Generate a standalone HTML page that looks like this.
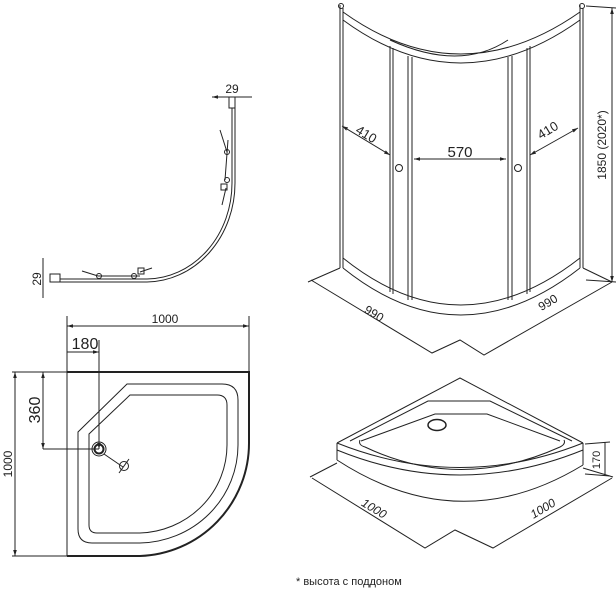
<!DOCTYPE html>
<html><head><meta charset="utf-8"><style>
html,body{margin:0;padding:0;background:#fff;}
svg{display:block;}
text{font-family:"Liberation Sans",sans-serif;fill:#222;}
</style></head><body>
<svg width="616" height="592" viewBox="0 0 616 592" xmlns="http://www.w3.org/2000/svg">
<defs><marker id="a" viewBox="0 0 10 10" refX="10" refY="5" markerWidth="6" markerHeight="6" orient="auto-start-reverse"><path d="M0,2 L10,5 L0,8z" fill="#222"/></marker></defs>
<g fill="none" stroke="#222" stroke-width="1">
<path d="M232,108 V183 A86,96 0 0 1 147,279 H60"/>
<path d="M235,108 V183 A89,99 0 0 1 147,282 H60"/>
<rect x="229" y="97" width="6" height="11"/>
<rect x="50" y="274" width="10" height="8"/>
<path d="M212,97 H252" marker-start="url(#a)"/>
<path d="M43,258 V298"/>
<path d="M220,130 L227,152 M228,140 L225,180 M226,188 L222,205 M82,271 L98,276 M98,276 L140,276 M140,272 L152,268"/>
<circle cx="227" cy="152" r="2.5"/><circle cx="227" cy="180" r="2.5"/><circle cx="99" cy="276" r="2.5"/><circle cx="134" cy="276" r="2.5"/>
<rect x="221" y="184" width="6" height="6"/><rect x="138" y="268" width="6" height="6"/>
</g>
<text x="232" y="93" font-size="12" text-anchor="middle">29</text>
<text transform="translate(41,279) rotate(-90)" font-size="12" text-anchor="middle">29</text>

<g fill="none" stroke="#222">
<path d="M67,372 V556" stroke-width="1"/>
<path d="M67,372 H249 V443 A113,113 0 0 1 140,556 H67" stroke-width="2"/>
<path d="M127,384 H222 Q238,384 238,400 V445 A100,98 0 0 1 140,543 H92 Q78,543 78,529 V432 Z" stroke-width="1"/>
<path d="M130,395 H217 Q227,395 227,405 V445 A90,88 0 0 1 140,533 H97 Q89,533 89,525 V434 Z" stroke-width="1"/>
<circle cx="99" cy="449" r="4.5" stroke-width="2"/><circle cx="99" cy="449" r="7" stroke-width="1"/>
<path d="M104,454 L123,467" stroke-width="1"/>
<circle cx="124" cy="466" r="4.5" stroke-width="1"/><path d="M119,473 L129,459" stroke-width="1"/>
<g stroke-width="1">
<path d="M67,372 V316 M249,372 V316"/>
<path d="M67,326 H249" marker-start="url(#a)" marker-end="url(#a)"/>
<path d="M99,449 V340 M67,352 H99" marker-start="url(#a)" marker-end="url(#a)"/>
<path d="M12,372 H67 M43,449 H99 M12,556 H67"/>
<path d="M43,372 V449" marker-start="url(#a)" marker-end="url(#a)"/>
<path d="M15,372 V556" marker-start="url(#a)" marker-end="url(#a)"/>
</g>
</g>
<text x="165" y="323" font-size="12" text-anchor="middle">1000</text>
<text x="85" y="349" font-size="16" text-anchor="middle">180</text>
<text transform="translate(40,410) rotate(-90)" font-size="16" text-anchor="middle">360</text>
<text transform="translate(12,464) rotate(-90)" font-size="12" text-anchor="middle">1000</text>

<g fill="none" stroke="#222" stroke-width="1">
<path d="M340,5 V268 M343,8 V268 M580,5 V268 M583,8 V268"/>
<circle cx="341" cy="6" r="2.5"/><circle cx="582" cy="6" r="2.5"/>
<path d="M343,12 Q460,96 580,12 M343,20 Q460,106 580,20 M390,40 Q460,72 508,40"/>
<path d="M390,46 V292 M393,48 V294 M408,56 V300 M412,57 V300 M508,57 V300 M512,56 V300 M527,48 V294 M530,46 V292"/>
<path d="M343,258 Q460,352 580,258 M343,268 Q460,362 580,268"/>
<circle cx="399" cy="168" r="3.5"/><circle cx="518" cy="168" r="3.5"/>
<path d="M342,126 L390,155" marker-start="url(#a)" marker-end="url(#a)"/>
<path d="M530,155 L578,128" marker-start="url(#a)" marker-end="url(#a)"/>
<path d="M414,159 H506" marker-start="url(#a)" marker-end="url(#a)"/>
<path d="M586,6 L616,8 M586,280 L616,282"/>
<path d="M612,8 V282" marker-start="url(#a)" marker-end="url(#a)"/>
<path d="M340,268 L308,282 M583,268 L612,282"/>
<path d="M311,280 L432,353 L460,340 L484,355 L612,282"/>
</g>
<text transform="translate(364,138) rotate(31)" font-size="13" text-anchor="middle">410</text>
<text transform="translate(550,134) rotate(-31)" font-size="13" text-anchor="middle">410</text>
<text x="460" y="157" font-size="15" text-anchor="middle">570</text>
<text transform="translate(606,145) rotate(-90)" font-size="12" text-anchor="middle">1850 (2020*)</text>
<text transform="translate(372,317) rotate(31)" font-size="12" text-anchor="middle">990</text>
<text transform="translate(550,306) rotate(-31)" font-size="12" text-anchor="middle">990</text>

<g fill="none" stroke="#222" stroke-width="1">
<path d="M337,443 L460,378 L583,443"/>
<path d="M337,443 V460 M583,443 V465 M337,450 Q460,500 583,450 M337,460 Q460,540 583,465"/>
<path d="M337,443 Q460,492 583,443"/>
<path d="M350,441 L428,401 H490 L572,441"/>
<path d="M360,440 Q358,445 365,447 Q460,492 560,447 Q566,444 564,440"/>
<path d="M361,441 L435,414 H487 L560,441"/>
<ellipse cx="437" cy="425" rx="9" ry="5.5" stroke-width="1.5"/>
<path d="M585,444 L610,442 M585,474 L610,476 M605,442 V476"/>
<path d="M337,463 L310,477 M583,468 L613,477"/>
<path d="M312,478 L425,548 L455,530 L493,548 L612,478"/>
</g>
<text transform="translate(600,460) rotate(-90)" font-size="11" text-anchor="middle">170</text>
<text transform="translate(372,512) rotate(31)" font-size="12" font-style="italic" text-anchor="middle">1000</text>
<text transform="translate(545,512) rotate(-31)" font-size="12" font-style="italic" text-anchor="middle">1000</text>
<text x="296" y="585" font-size="11">* высота с поддоном</text>
</svg>
</body></html>
